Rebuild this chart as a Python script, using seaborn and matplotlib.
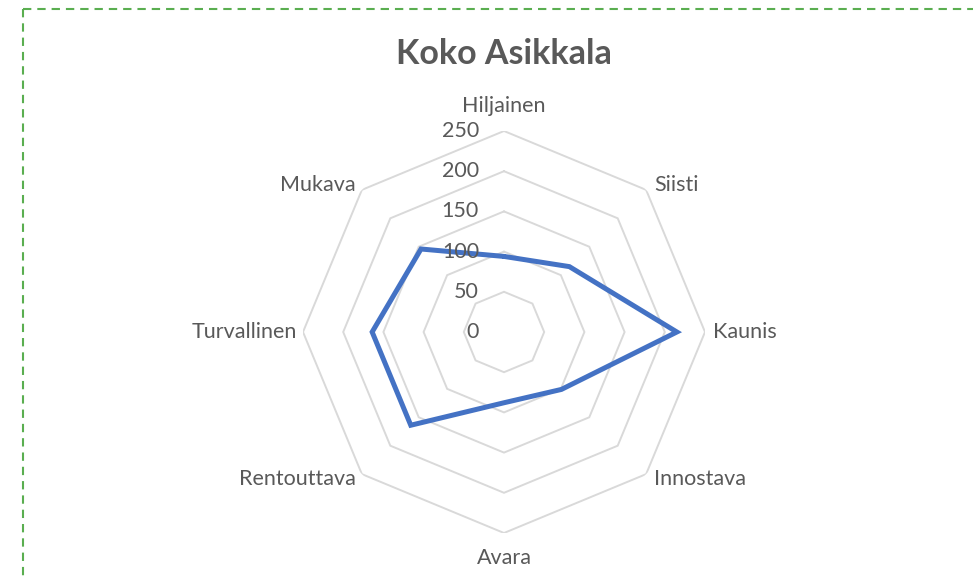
import numpy as np
import pandas as pd
import matplotlib
matplotlib.use("Agg")
import matplotlib.pyplot as plt
from matplotlib.lines import Line2D
import seaborn as sns

# ---- data ----
categories = ["Hiljainen", "Siisti", "Kaunis", "Innostava",
              "Avara", "Rentouttava", "Turvallinen", "Mukava"]
values = [94, 115, 215, 101, 88, 164, 164, 146]
tick_values = [0, 50, 100, 150, 200, 250]
title = "Koko Asikkala"

sns.set_theme(style="white")
plt.rcParams["font.family"] = ["Lato", "DejaVu Sans"]
plt.rcParams["lines.scale_dashes"] = False

TEXT = "#595959"
GRID = "#D9D9D9"
LINE = "#4472C4"

W, H = 973, 579
fig = plt.figure(figsize=(W / 100, H / 100), dpi=100)
fig.patch.set_facecolor("white")

cx, cy, R = 504, 332, 201  # pixel centre / radius of plot
ax = fig.add_axes([(cx - R) / W, (H - cy - R) / H, 2 * R / W, 2 * R / H],
                  projection="polar")
ax.set_theta_zero_location("N")
ax.set_theta_direction(-1)
ax.set_ylim(0, tick_values[-1])
ax.grid(False)
ax.set_xticks([])
ax.set_yticks([])
ax.spines["polar"].set_visible(False)
ax.patch.set_alpha(0)

n = len(categories)
angles = np.arange(n) * 2 * np.pi / n
closed_angles = np.append(angles, 2 * np.pi)

# octagonal grid
for v in tick_values[1:]:
    ax.plot(closed_angles, [v] * (n + 1), color=GRID, lw=1.4, zorder=1,
            solid_joinstyle="miter")

# data polygon via seaborn
df = pd.DataFrame({"theta": closed_angles,
                   "value": values + [values[0]]})
sns.lineplot(data=df, x="theta", y="value", ax=ax, sort=False,
             estimator=None, color=LINE, lw=3.6, zorder=3)
ax.lines[-1].set_solid_joinstyle("miter")
ax.set_xlabel("")
ax.set_ylabel("")
ax.set_ylim(0, tick_values[-1])

FS = 15.5
# radial tick labels
for v in tick_values:
    ax.annotate(str(v), xy=(0, v), xytext=(-25, 0), textcoords="offset pixels",
                ha="right", va="center", fontsize=FS, color=TEXT, zorder=4)

# category labels
for a, lab in zip(angles, categories):
    s, c = np.sin(a), np.cos(a)
    if abs(s) < 1e-6:
        ha, dx, dy = "center", 0, 25 * c
    else:
        ha = "left" if s > 0 else "right"
        dx, dy = (8 if s > 0 else -6), 7 * c
    ax.annotate(lab, xy=(a, tick_values[-1]), xytext=(dx, dy),
                textcoords="offset pixels", ha=ha, va="center",
                fontsize=FS, color=TEXT, annotation_clip=False)

# title
fig.text(cx / W, 1 - 54 / H, title, ha="center", va="center",
         fontsize=24.5, fontweight="bold", color=TEXT)

# dashed green chart-area border (cut off at right and bottom)
bx, by = 23 / W, 1 - 9 / H
green = "#5AAE50"
fig.add_artist(Line2D([bx, bx], [by, -0.1], transform=fig.transFigure,
                      color=green, lw=1.5, linestyle=(0, (6, 4.3))))
fig.add_artist(Line2D([bx, 1.1], [by, by], transform=fig.transFigure,
                      color=green, lw=1.5, linestyle=(0, (6, 4.3))))

fig.savefig("out.png", dpi=100, facecolor="white")
